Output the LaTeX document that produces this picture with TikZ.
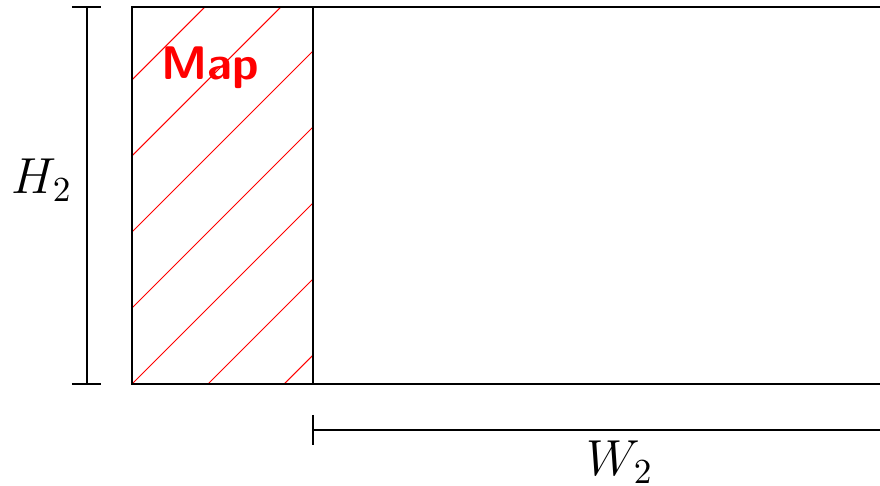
\documentclass[tikz,border=0pt]{standalone}
\usepackage{amsmath}
\usepackage{tikz}

\tikzset{
  dimline/.style={black, line width=0.35pt},
  hatchline/.style={red, line width=0.3pt},
  maplabel/.style={red, font=\sffamily\bfseries\fontsize{13.4}{16}\selectfont},
  dimlabel/.style={font=\Large},
}

\begin{document}
\begin{tikzpicture}[x=0.01cm, y=-0.01cm]
\useasboundingbox (0,0) rectangle (880,486);

\coordinate (tl) at (132,7);
\coordinate (br) at (313,384);
\coordinate (tr) at (880,7);
\coordinate (rb) at (880,384);

\begin{scope}
\clip (tl) rectangle (br);
\foreach \c in {212, 288, 364, 440, 516, 592, 668}{
\draw[hatchline] (\c-400,400) -- (\c,0);
}
\end{scope}

\draw[dimline] (tl) rectangle (br);
\draw[dimline] (br) -- (rb);
\draw[dimline] (tl) -- (tr);

\node[maplabel] (map) at (210,68) {Map};

% height
\coordinate (ht) at (87,7);
\coordinate (hb) at (87,384);
\draw[dimline] (ht) -- (hb);
\draw[dimline] ([xshift=-0.15cm]ht) -- ([xshift=0.14cm]ht);
\draw[dimline] ([xshift=-0.15cm]hb) -- ([xshift=0.14cm]hb);
\node[dimlabel] (h2) at (42,180) {$H_2$};

% width
\coordinate (wl) at (313,430);
\coordinate (wr) at (880,430);
\draw[dimline] (wl) -- (wr);
\draw[dimline] ([yshift=0.15cm]wl) -- ([yshift=-0.15cm]wl);
\node[dimlabel] (w2) at (620,462) {$W_2$};
\end{tikzpicture}
\end{document}
